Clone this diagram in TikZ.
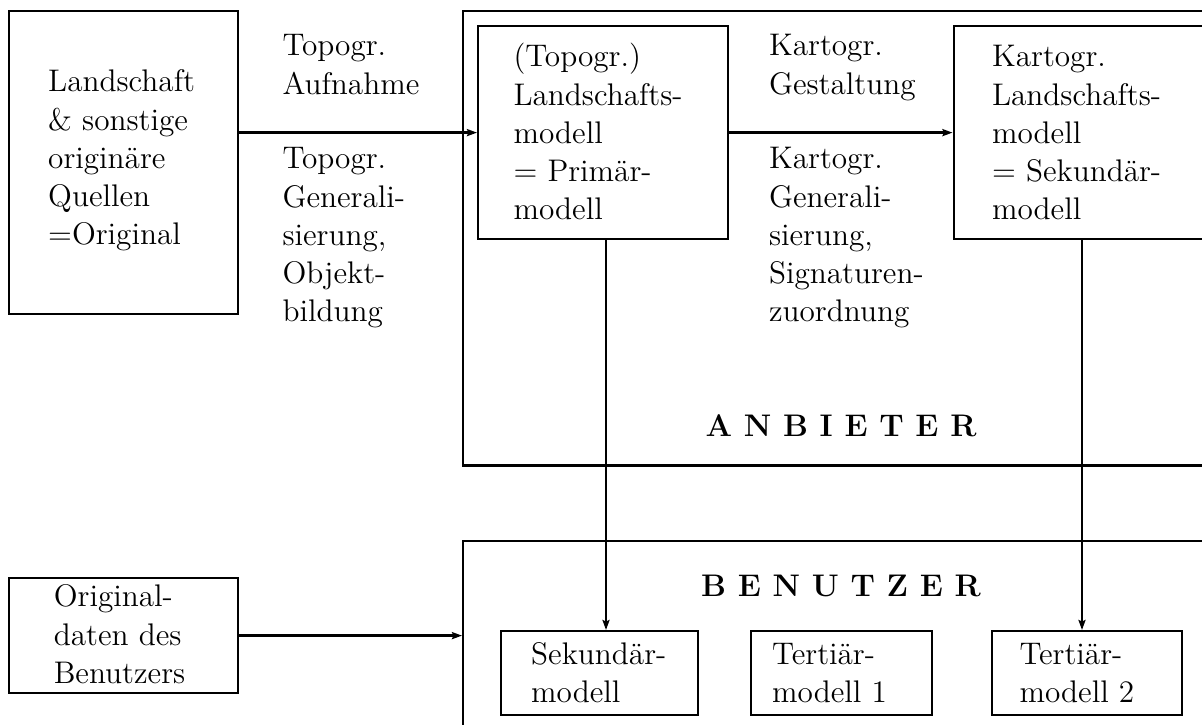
\documentclass[tikz,border=0pt]{standalone}
\usepackage{fontspec}
\usetikzlibrary{arrows.meta}

% multi-line text block whose first baseline is the node's base
\newcommand{\lns}[1]{\begin{tabular}[t]{@{}l@{}}#1\end{tabular}}

\tikzset{
  box/.style={draw, line width=0.9pt, inner sep=0pt, anchor=north west},
  size/.style 2 args={minimum width=#1*0.4pt, minimum height=#2*0.4pt},
  txt/.style={inner sep=0pt, anchor=base west, font=\fontsize{12.5}{15.3}\selectfont},
  title/.style={inner sep=0pt, anchor=base, font=\fontsize{12.5}{15.3}\selectfont\bfseries},
  arr/.style={line width=0.9pt, -{Stealth[length=4pt, width=2.8pt, inset=0.6pt]}},
}

\begin{document}
\begin{tikzpicture}[x=0.4pt, y=-0.4pt]
\useasboundingbox (0,0) rectangle (1202,725);
\clip (0,0) rectangle (1202,725);

% frames
\node[box, size={229}{303}] (src)  at (7.5,10) {};
\node[box, size={800}{454.5}] (anb) at (462,10) {};
\node[box, size={250}{213}] (prim) at (477,25) {};
\node[box, size={300}{213}] (kls)  at (952.5,25) {};
\node[box, size={800}{300}] (ben)  at (462,540) {};
\node[box, size={229}{115}] (orig) at (7.5,577) {};
\node[box, size={197}{84}]  (sekb) at (500,630) {};
\node[box, size={181.5}{84}] (ter1) at (749.5,630) {};
\node[box, size={190}{84}]  (ter2) at (991,630) {};

% texts
\node[txt] (srcT)  at (47.7,92)  {\lns{Landschaft\\ \& sonstige\\ originäre\\ Quellen\\ =Original}};
\node[txt] (topA)  at (282,56)   {\lns{Topogr.\\ Aufnahme}};
\node[txt] (topB)  at (282,169)  {\lns{Topogr.\\ Generali-\\ sierung,\\ Objekt-\\ bildung}};
\node[txt] (primT) at (513,67)   {\lns{(Topogr.)\\ Landschafts-\\ modell\\ = Primär-\\ modell}};
\node[txt] (karA)  at (768.5,56) {\lns{Kartogr.\\ Gestaltung}};
\node[txt] (karB)  at (768.5,169){\lns{Kartogr.\\ Generali-\\ sierung,\\ Signaturen-\\ zuordnung}};
\node[txt] (klsT)  at (991.5,67) {\lns{Kartogr.\\ Landschafts-\\ modell\\ = Sekundär-\\ modell}};
\node[title] (anbT) at (841,436.5) {A N B I E T E R};
\node[title] (benT) at (841,596.5) {B E N U T Z E R};
\node[txt] (origT) at (53.3,607)  {\lns{Original-\\ daten des\\ Benutzers}};
\node[txt] (sekT)  at (530.7,664.5) {\lns{Sekundär-\\ modell}};
\node[txt] (ter1T) at (771.7,664.5) {\lns{Tertiär-\\ modell 1}};
\node[txt] (ter2T) at (1019,664.5)  {\lns{Tertiär-\\ modell 2}};

% connectors
\coordinate (d1) at (606,0);
\coordinate (d2) at (1082,0);
\draw[arr] (src.east |- prim.west) -- (prim.west);
\draw[arr] (prim.east) -- (kls.west);
\draw[arr] (prim.south -| d1) -- (sekb.north -| d1);
\draw[arr] (kls.south -| d2) -- (ter2.north -| d2);
\draw[arr] (orig.east) -- (orig.east -| ben.west);
\end{tikzpicture}
\end{document}
